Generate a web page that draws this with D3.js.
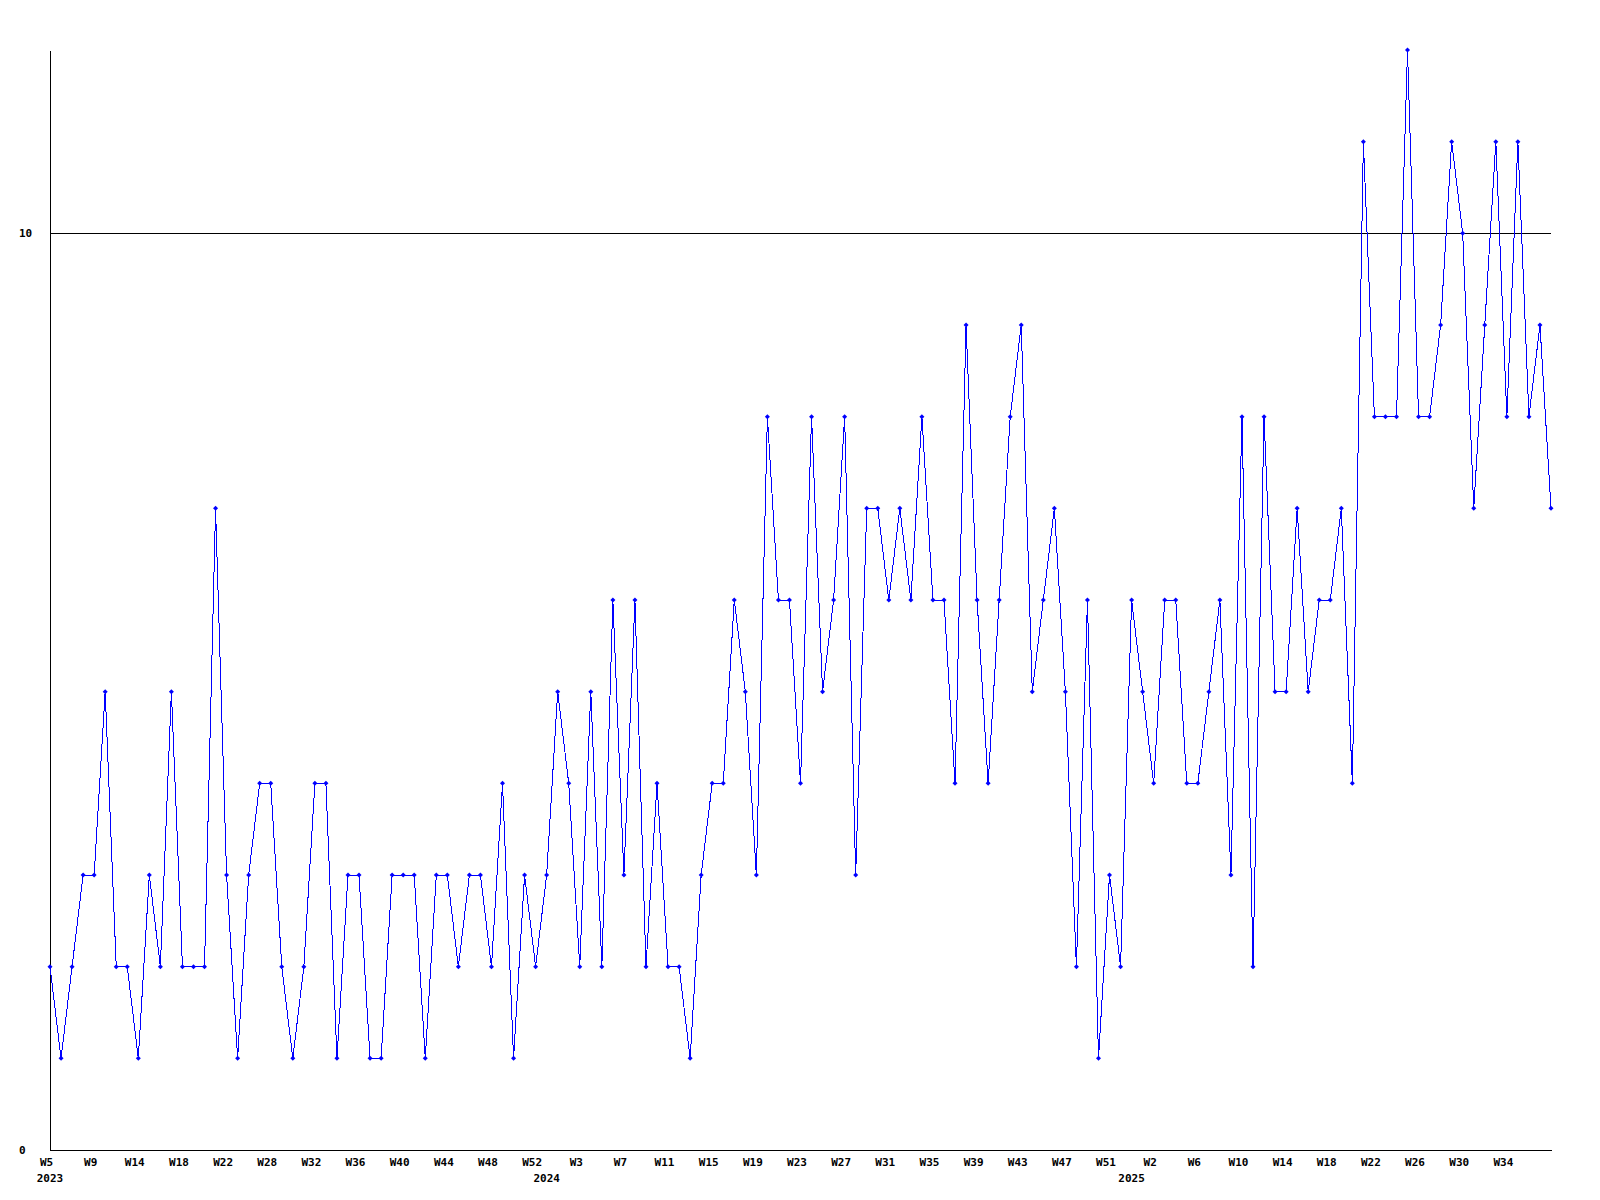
<!DOCTYPE html>
<html>
<head>
<meta charset="utf-8">
<script src="https://cdn.jsdelivr.net/npm/d3@7"></script>
<style>
  body { margin: 0; background: #fff; }
  svg { display: block; }
  .axis text { font-family: "DejaVu Sans Mono", monospace; font-weight: bold; font-size: 11px; fill: #000; }
  .axis path, .axis line { stroke: #000; }
  .year { font-family: "DejaVu Sans Mono", monospace; font-weight: bold; font-size: 11px; fill: #000; }
</style>
</head>
<body>
<svg id="chart"></svg>
<script>
// weekly counts, one per point
const values = [
  2,1,2,3,3,5,2,2,1,3,2,5,2,2,2,7,3,1,3,4,4,2,1,2,4,4,1,3,3,1,
  1,3,3,3,1,3,3,2,3,3,2,4,1,3,2,3,5,4,2,5,2,6,3,6,2,4,2,2,1,3,
  4,4,6,5,3,8,6,6,4,8,5,6,8,3,7,7,6,7,6,8,6,6,4,9,6,4,6,8,9,5,
  6,7,5,2,6,1,3,2,6,5,4,6,6,4,4,5,6,3,8,2,8,5,5,7,5,6,6,7,4,11,
  8,8,8,12,8,8,9,11,10,7,9,11,8,11,8,9,7
];

// a label under every 4th point
const tickLabels = [
  "W5","W9","W14","W18","W22","W28","W32","W36","W40","W44","W48","W52",
  "W3","W7","W11","W15","W19","W23","W27","W31","W35","W39","W43","W47","W51",
  "W2","W6","W10","W14","W18","W22","W26","W30","W34"
];
const tickStep = 4;

// year label and the point it sits under
const yearLabels = ["2023", "2024", "2025"];
const yearIndex = [0, 45, 98];

const yTicks = [0, 10];
const yMax = 12;
const refLine = 10;

class WeekLine {
    constructor(_config, _data) {
        this.config = {
            parentElement: _config.parentElement,
            containerWidth: _config.containerWidth || 1600,
            containerHeight: _config.containerHeight || 1200,
            margin: { top: 50, bottom: 50, right: 49, left: 50 }
        }
        this.data = _data;
        this.initVis();
    }

    initVis() {
        let vis = this;

        vis.width = vis.config.containerWidth - vis.config.margin.left - vis.config.margin.right;
        vis.height = vis.config.containerHeight - vis.config.margin.top - vis.config.margin.bottom;

        vis.svg = d3.select(vis.config.parentElement)
            .attr('width', vis.config.containerWidth)
            .attr('height', vis.config.containerHeight);

        vis.chart = vis.svg.append('g')
            .attr('transform', `translate(${vis.config.margin.left},${vis.config.margin.top})`);

        vis.xScale = d3.scaleLinear()
            .domain([0, vis.data.length - 1])
            .range([0, vis.width]);
        vis.yScale = d3.scaleLinear()
            .domain([0, yMax])
            .range([vis.height, 0]);

        // reference line at 10
        vis.chart.append('line')
            .attr('x1', 0).attr('x2', vis.width)
            .attr('y1', vis.yScale(refLine)).attr('y2', vis.yScale(refLine))
            .attr('stroke', '#000')
            .attr('shape-rendering', 'crispEdges');

        vis.yAxis = d3.axisLeft(vis.yScale)
            .tickValues(yTicks)
            .tickSize(0)
            .tickFormat(d3.format('d'));

        vis.xAxis = d3.axisBottom(vis.xScale)
            .tickValues(tickLabels.map((d, i) => i * tickStep))
            .tickSize(0)
            .tickFormat((d, i) => tickLabels[i]);

        let yG = vis.chart.append('g')
            .attr('class', 'axis')
            .call(vis.yAxis);
        yG.select('.domain').attr('shape-rendering', 'crispEdges');
        yG.selectAll('text')
            .attr('text-anchor', 'start')
            .attr('x', -31)
            .attr('dy', '0.32em');

        let xG = vis.chart.append('g')
            .attr('class', 'axis')
            .attr('transform', `translate(0,${vis.height})`)
            .call(vis.xAxis);
        xG.select('.domain').attr('shape-rendering', 'crispEdges');
        xG.selectAll('text')
            .attr('x', -4)
            .attr('y', 8)
            .attr('dy', '0.71em');

        vis.chart.selectAll('.year')
            .data(yearLabels)
            .enter()
            .append('text')
            .attr('class', 'year')
            .attr('text-anchor', 'middle')
            .attr('x', (d, i) => vis.xScale(yearIndex[i]))
            .attr('y', vis.height + 32)
            .text(d => d);

        vis.line = d3.line()
            .x((d, i) => vis.xScale(i))
            .y(d => vis.yScale(d));

        vis.chart.append('path')
            .datum(vis.data)
            .attr('fill', 'none')
            .attr('stroke', '#0000ff')
            .attr('stroke-width', 1)
            .attr('shape-rendering', 'crispEdges')
            .attr('d', vis.line);

        // small diamond markers
        vis.chart.selectAll('.pt')
            .data(vis.data)
            .enter()
            .append('path')
            .attr('class', 'pt')
            .attr('fill', '#0000ff')
            .attr('d', (d, i) => {
                let x = vis.xScale(i), y = vis.yScale(d);
                return `M${x},${y - 2.5}L${x + 2.5},${y}L${x},${y + 2.5}L${x - 2.5},${y}Z`;
            });
    }
}

new WeekLine({ parentElement: '#chart' }, values);
</script>
</body>
</html>
